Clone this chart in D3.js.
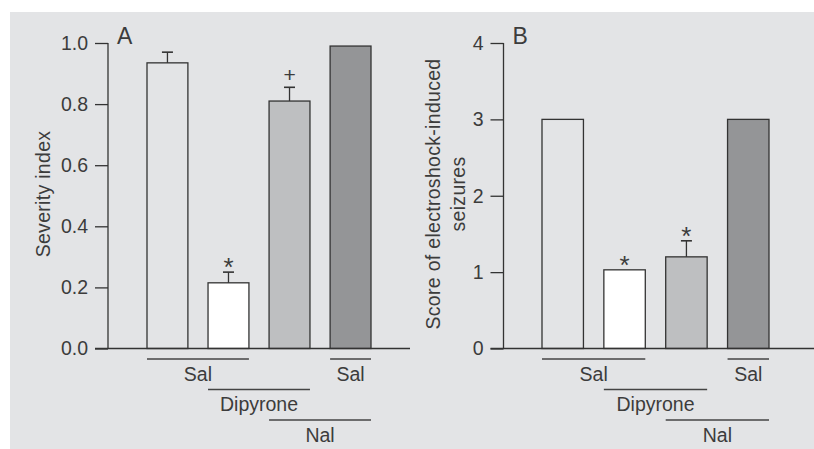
<!DOCTYPE html>
<html>
<head>
<meta charset="utf-8">
<script src="https://cdn.jsdelivr.net/npm/d3@7"></script>
<style>
  body { margin: 0; background: #fff; }
  svg text { font-family: "Liberation Sans", Arial, sans-serif; fill: #3c3c3c; }
</style>
</head>
<body>
<svg id="chart" width="814" height="449"></svg>
<script>
// bars, left to right
const groups = ["Sal+Sal", "Dipyrone+Sal", "Dipyrone+Nal", "Sal+Nal"];

// panel A: severity index
const severity = [0.935, 0.215, 0.81, 0.99];
const severitySem = [0.035, 0.035, 0.045, 0];
const severityMarks = ["", "*", "+", ""];
const severityTicks = [0, 0.2, 0.4, 0.6, 0.8, 1.0];

// panel B: seizure score
const score = [3.0, 1.03, 1.2, 3.0];
const scoreSem = [0, 0, 0.21, 0];
const scoreMarks = ["", "*", "*", ""];
const scoreTicks = [0, 1, 2, 3, 4];

// treatment lines under the bars (first bar index, last bar index, row)
const treatLabels = ["Sal", "Dipyrone", "Nal", "Sal"];
const treatFrom = [0, 1, 2, 3];
const treatTo = [1, 2, 3, 3];
const treatRow = [0, 1, 2, 0];

const fills = ["#e3e4e6", "#ffffff", "#bebfc1", "#949597"];
const ink = "#333";

const svg = d3.select("#chart");

// grey panel background
svg.append("rect")
    .attr("x", 10).attr("y", 12)
    .attr("width", 804).attr("height", 437)
    .attr("fill", "#e3e4e6");

function drawPanel(opt) {
    const g = svg.append("g");
    const y = d3.scaleLinear([0, opt.max], [348.5, 43]);
    const x = d3.scaleBand(groups, opt.range).paddingInner(0.33).paddingOuter(0);

    // y axis
    const axis = g.append("g")
        .attr("transform", `translate(${opt.axisX},0)`)
        .call(d3.axisLeft(y).tickValues(opt.ticks).tickFormat(opt.fmt).tickSize(13).tickPadding(7));
    axis.select(".domain").remove();
    axis.selectAll(".tick line").attr("stroke", ink).attr("stroke-width", 1.3);
    axis.selectAll(".tick text").attr("font-size", 19.5).style("fill", "#3c3c3c");
    g.append("line")
        .attr("x1", opt.axisX).attr("x2", opt.axisX)
        .attr("y1", y(opt.max)).attr("y2", y(0))
        .attr("stroke", ink).attr("stroke-width", 1.3);

    // bars
    g.selectAll("rect.bar").data(opt.values).join("rect")
        .attr("class", "bar")
        .attr("x", (d, i) => x(groups[i]))
        .attr("width", x.bandwidth())
        .attr("y", d => y(d))
        .attr("height", d => y(0) - y(d))
        .attr("fill", (d, i) => fills[i])
        .attr("stroke", ink)
        .attr("stroke-width", 1.3);

    // baseline
    g.append("line")
        .attr("x1", opt.axisX - 13).attr("x2", opt.baseEnd)
        .attr("y1", y(0)).attr("y2", y(0))
        .attr("stroke", ink).attr("stroke-width", 1.3);

    // error bars (upper only)
    opt.values.forEach((v, i) => {
        const s = opt.sem[i];
        const cx = x(groups[i]) + x.bandwidth() / 2;
        if (s > 0) {
            g.append("line")
                .attr("x1", cx).attr("x2", cx)
                .attr("y1", y(v)).attr("y2", y(v + s))
                .attr("stroke", ink).attr("stroke-width", 1.3);
            g.append("line")
                .attr("x1", cx - 5.5).attr("x2", cx + 5.5)
                .attr("y1", y(v + s)).attr("y2", y(v + s))
                .attr("stroke", ink).attr("stroke-width", 1.6);
        }
        if (opt.marks[i]) {
            const star = opt.marks[i] === "*";
            g.append("text")
                .attr("x", cx)
                .attr("y", y(v + s) + (star ? 4 : -5))
                .attr("text-anchor", "middle")
                .attr("font-size", star ? 26 : 21)
                .text(opt.marks[i]);
        }
    });

    // treatment lines and labels
    treatLabels.forEach((lab, k) => {
        const x1 = x(groups[treatFrom[k]]);
        const x2 = x(groups[treatTo[k]]) + x.bandwidth();
        const ly = 359 + treatRow[k] * 30.5;
        g.append("line")
            .attr("x1", x1).attr("x2", x2)
            .attr("y1", ly).attr("y2", ly)
            .attr("stroke", "#444").attr("stroke-width", 1.3);
        g.append("text")
            .attr("x", (x1 + x2) / 2)
            .attr("y", ly + 21.5)
            .attr("text-anchor", "middle")
            .attr("font-size", 19.5)
            .text(lab);
    });

    // panel letter
    g.append("text")
        .attr("x", opt.axisX + 9).attr("y", 43.5)
        .attr("font-size", 23)
        .text(opt.letter);

    // y label
    const yl = g.append("text")
        .attr("transform", `translate(${opt.labelX},194) rotate(-90)`)
        .attr("text-anchor", "middle")
        .attr("font-size", 19.5)
        .attr("letter-spacing", 0.3);
    opt.label.forEach((t, j) => {
        yl.append("tspan").attr("x", 0).attr("dy", j === 0 ? 0 : 24.5).text(t);
    });
}

drawPanel({
    values: severity, sem: severitySem, marks: severityMarks,
    ticks: severityTicks, fmt: d3.format(".1f"), max: 1.0,
    axisX: 108, range: [147, 371], baseEnd: 410,
    letter: "A", label: ["Severity index"], labelX: 50
});

drawPanel({
    values: score, sem: scoreSem, marks: scoreMarks,
    ticks: scoreTicks, fmt: d3.format("d"), max: 4,
    axisX: 503.5, range: [542, 769], baseEnd: 814,
    letter: "B", label: ["Score of electroshock-induced", "seizures"], labelX: 440
});
</script>
</body>
</html>
